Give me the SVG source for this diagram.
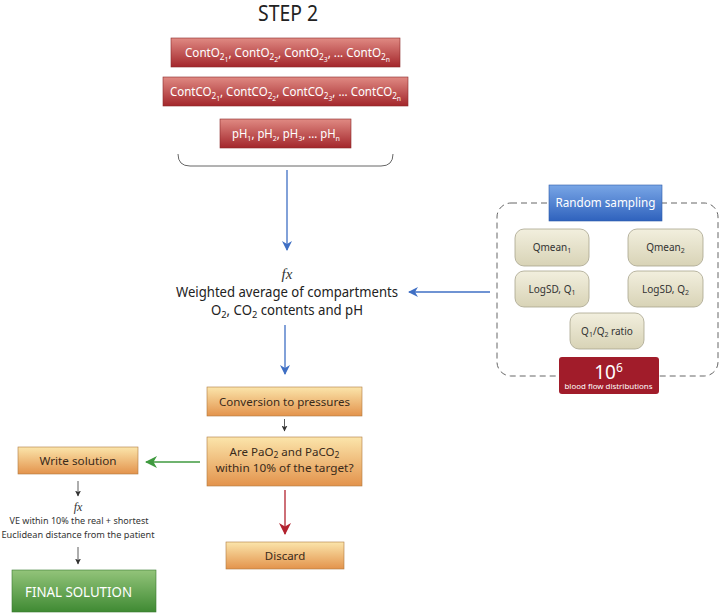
<svg xmlns="http://www.w3.org/2000/svg" width="720" height="613" viewBox="0 0 720 613">
<defs>
<linearGradient id="gRed" x1="0" y1="0" x2="0" y2="1"><stop offset="0" stop-color="#e08a83"/><stop offset="1" stop-color="#a3262b"/></linearGradient>
<linearGradient id="gOr" x1="0" y1="0" x2="0" y2="1"><stop offset="0" stop-color="#fbe5ab"/><stop offset="1" stop-color="#e3934c"/></linearGradient>
<linearGradient id="gGr" x1="0" y1="0" x2="0" y2="1"><stop offset="0" stop-color="#93c47a"/><stop offset="1" stop-color="#3f8a33"/></linearGradient>
<linearGradient id="gBl" x1="0" y1="0" x2="0" y2="1"><stop offset="0" stop-color="#79a6e6"/><stop offset="1" stop-color="#2f62bd"/></linearGradient>
<linearGradient id="gBe" x1="0" y1="0" x2="0" y2="1"><stop offset="0" stop-color="#f2efde"/><stop offset="1" stop-color="#d8d3b6"/></linearGradient>
<marker id="aBlue" markerWidth="10" markerHeight="10" refX="9" refY="5" orient="auto" markerUnits="userSpaceOnUse"><path d="M0,0 L10,5 L0,10 L3,5 Z" fill="#3f6fc4"/></marker>
<marker id="aGreen" markerWidth="12" markerHeight="12" refX="11" refY="6" orient="auto" markerUnits="userSpaceOnUse"><path d="M0,0 L12,6 L0,12 L3.5,6 Z" fill="#3f9a3f"/></marker>
<marker id="aRed" markerWidth="12" markerHeight="12" refX="11" refY="6" orient="auto" markerUnits="userSpaceOnUse"><path d="M0,0 L12,6 L0,12 L3.5,6 Z" fill="#b2222f"/></marker>
<marker id="aBlk" markerWidth="6" markerHeight="6" refX="5.5" refY="3" orient="auto" markerUnits="userSpaceOnUse"><path d="M0,0 L6,3 L0,6 L1.5,3 Z" fill="#333"/></marker>
</defs>
<style>
text{font-family:"Noto Sans","Liberation Sans",sans-serif;}
.t{fill:#222;font-size:13px;text-anchor:middle;}
.w{fill:#fff;font-size:12px;text-anchor:middle;}
.d{fill:#3a2a1a;font-size:11.5px;text-anchor:middle;}
.s{fill:#333;font-size:10px;text-anchor:middle;}
.fx{font-family:"Liberation Serif",serif;font-style:italic;fill:#333;text-anchor:middle;}
.red{fill:url(#gRed);stroke:#8a2a2a;stroke-width:0.6;}
.or{fill:url(#gOr);stroke:#b07a40;stroke-width:0.6;}
.be{fill:url(#gBe);stroke:#a8a48e;stroke-width:0.8;}
</style>

<text x="288" y="21" textLength="60" lengthAdjust="spacingAndGlyphs" style="font-size:21px;fill:#222;text-anchor:middle">STEP 2</text>

<g id="contO2">
<rect class="red" x="171" y="38" width="229" height="29"/>
<text class="w" x="287.5" y="57" textLength="205" lengthAdjust="spacingAndGlyphs">ContO<tspan font-size="8.5" baseline-shift="-3">2</tspan><tspan font-size="7" baseline-shift="-5">1</tspan>, ContO<tspan font-size="8.5" baseline-shift="-3">2</tspan><tspan font-size="7" baseline-shift="-5">2</tspan>, ContO<tspan font-size="8.5" baseline-shift="-3">2</tspan><tspan font-size="7" baseline-shift="-5">3</tspan>, ... ContO<tspan font-size="8.5" baseline-shift="-3">2</tspan><tspan font-size="7" baseline-shift="-5">n</tspan></text>
</g>
<g id="contCO2">
<rect class="red" x="163" y="77" width="245" height="29"/>
<text class="w" x="285.5" y="96" textLength="231" lengthAdjust="spacingAndGlyphs">ContCO<tspan font-size="8.5" baseline-shift="-3">2</tspan><tspan font-size="7" baseline-shift="-5">1</tspan>, ContCO<tspan font-size="8.5" baseline-shift="-3">2</tspan><tspan font-size="7" baseline-shift="-5">2</tspan>, ContCO<tspan font-size="8.5" baseline-shift="-3">2</tspan><tspan font-size="7" baseline-shift="-5">3</tspan>, ... ContCO<tspan font-size="8.5" baseline-shift="-3">2</tspan><tspan font-size="7" baseline-shift="-5">n</tspan></text>
</g>
<g id="pH">
<rect class="red" x="220" y="119" width="131" height="29"/>
<text class="w" x="286" y="138" textLength="108" lengthAdjust="spacingAndGlyphs">pH<tspan font-size="7.5" baseline-shift="-3">1</tspan>, pH<tspan font-size="7.5" baseline-shift="-3">2</tspan>, pH<tspan font-size="7.5" baseline-shift="-3">3</tspan>, ... pH<tspan font-size="7.5" baseline-shift="-3">n</tspan></text>
</g>
<g id="brace">
<path d="M178,154 Q178,166 190,166 L381,166 Q393,166 393,154" fill="none" stroke="#666" stroke-width="1"/>
</g>

<g id="weighted">
<text class="fx" x="287" y="279" style="font-size:15px">fx</text>
<text class="t" x="287" y="297" textLength="222" lengthAdjust="spacingAndGlyphs" style="font-size:13.5px">Weighted average of compartments</text>
<text class="t" x="287" y="315" textLength="152" lengthAdjust="spacingAndGlyphs" style="font-size:13.5px">O<tspan font-size="9.5" baseline-shift="-3">2</tspan>, CO<tspan font-size="9.5" baseline-shift="-3">2</tspan> contents and pH</text>
</g>

<g id="sampling">
<rect x="497" y="203" width="221" height="173" rx="14" fill="none" stroke="#666" stroke-width="1" stroke-dasharray="6,4"/>
<rect x="549" y="185" width="113" height="36" fill="url(#gBl)" stroke="#2d5aa8" stroke-width="0.6"/>
<text x="605.5" y="207" textLength="100" lengthAdjust="spacingAndGlyphs" style="fill:#fff;font-size:12.5px;text-anchor:middle">Random sampling</text>
<g id="qmean1"><rect class="be" x="515" y="229" width="74" height="37" rx="9"/><text class="s" x="552" y="251">Qmean<tspan font-size="7" baseline-shift="-2">1</tspan></text></g>
<g id="qmean2"><rect class="be" x="628" y="229" width="75" height="37" rx="9"/><text class="s" x="665.5" y="251">Qmean<tspan font-size="7" baseline-shift="-2">2</tspan></text></g>
<g id="logsd1"><rect class="be" x="515" y="271" width="74" height="36" rx="9"/><text class="s" x="552" y="293">LogSD, Q<tspan font-size="7" baseline-shift="-2">1</tspan></text></g>
<g id="logsd2"><rect class="be" x="628" y="271" width="75" height="36" rx="9"/><text class="s" x="665.5" y="293">LogSD, Q<tspan font-size="7" baseline-shift="-2">2</tspan></text></g>
<g id="ratio"><rect class="be" x="570" y="313" width="74" height="36" rx="9"/><text class="s" x="607" y="335">Q<tspan font-size="7" baseline-shift="-2">1</tspan>/Q<tspan font-size="7" baseline-shift="-2">2</tspan> ratio</text></g>
<g id="dist">
<rect x="559" y="357" width="100" height="37" rx="3" fill="#a11c2a"/>
<text x="608.5" y="379" style="fill:#fff;font-size:19px;text-anchor:middle">10<tspan font-size="12" baseline-shift="7">6</tspan></text>
<text x="608.5" y="389" textLength="88" lengthAdjust="spacingAndGlyphs" style="fill:#fff;font-size:7.5px;text-anchor:middle">blood flow distributions</text>
</g>
</g>

<g id="conversion">
<rect class="or" x="207" y="387" width="155" height="29"/>
<text class="d" x="284.5" y="406" textLength="131" lengthAdjust="spacingAndGlyphs">Conversion to pressures</text>
</g>
<g id="question">
<rect class="or" x="207" y="437" width="155" height="49"/>
<text class="d" x="284.5" y="456" textLength="110" lengthAdjust="spacingAndGlyphs">Are PaO<tspan font-size="8.5" baseline-shift="-2">2</tspan> and PaCO<tspan font-size="8.5" baseline-shift="-2">2</tspan></text>
<text class="d" x="284.5" y="472" textLength="138" lengthAdjust="spacingAndGlyphs">within 10% of the target?</text>
</g>
<g id="write">
<rect class="or" x="18" y="447" width="120" height="27"/>
<text class="d" x="78" y="465" textLength="77" lengthAdjust="spacingAndGlyphs">Write solution</text>
</g>
<g id="discard">
<rect class="or" x="226" y="542" width="118" height="27"/>
<text class="d" x="285" y="560">Discard</text>
</g>
<g id="criterion">
<text class="fx" x="78" y="511" style="font-size:12px">fx</text>
<text x="79" y="524" textLength="139" lengthAdjust="spacingAndGlyphs" style="fill:#333;font-size:9.5px;text-anchor:middle">VE within 10% the real + shortest</text>
<text x="78" y="538" textLength="153" lengthAdjust="spacingAndGlyphs" style="fill:#333;font-size:9.5px;text-anchor:middle">Euclidean distance from the patient</text>
</g>
<g id="final">
<rect x="12" y="570" width="144" height="42" fill="url(#gGr)" stroke="#3a7a30" stroke-width="0.6"/>
<text x="78.5" y="597" textLength="107" lengthAdjust="spacingAndGlyphs" style="fill:#fff;font-size:14.5px;text-anchor:middle">FINAL SOLUTION</text>
</g>

<g id="connectors">
<line x1="287" y1="170" x2="287" y2="250" stroke="#3f6fc4" stroke-width="1.3" marker-end="url(#aBlue)"/>
<line x1="490" y1="292" x2="409" y2="292" stroke="#3f6fc4" stroke-width="1.3" marker-end="url(#aBlue)"/>
<line x1="285" y1="325" x2="285" y2="374" stroke="#3f6fc4" stroke-width="1.3" marker-end="url(#aBlue)"/>
<line x1="284.5" y1="419" x2="284.5" y2="431" stroke="#333" stroke-width="0.8" marker-end="url(#aBlk)"/>
<line x1="200" y1="462" x2="146" y2="462" stroke="#3f9a3f" stroke-width="1.3" marker-end="url(#aGreen)"/>
<line x1="285" y1="490" x2="285" y2="534" stroke="#b2222f" stroke-width="1.3" marker-end="url(#aRed)"/>
<line x1="78" y1="481" x2="78" y2="496" stroke="#333" stroke-width="0.8" marker-end="url(#aBlk)"/>
<line x1="78" y1="547" x2="78" y2="564" stroke="#333" stroke-width="0.8" marker-end="url(#aBlk)"/>
</g>
</svg>
